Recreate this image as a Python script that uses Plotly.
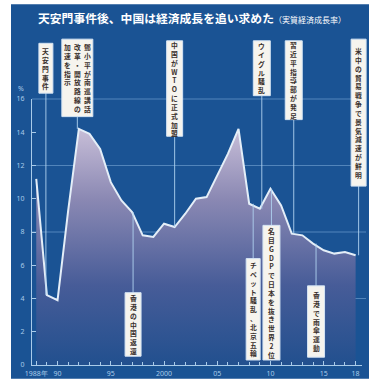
import plotly.graph_objects as go

# ---- data ----
years = list(range(1988, 2019))
growth = [11.2, 4.2, 3.9, 9.3, 14.2, 13.9, 13.0, 11.0, 9.9, 9.2,
          7.8, 7.7, 8.5, 8.3, 9.1, 10.0, 10.1, 11.4, 12.7, 14.2,
          9.7, 9.4, 10.6, 9.6, 7.9, 7.8, 7.3, 6.9, 6.7, 6.8, 6.6]

x_tickvals = [1988, 1990, 1995, 2000, 2005, 2010, 2015, 2018]
x_ticktext = ["1988年", "90", "95", "2000", "05", "10", "15", "18"]
y_tickvals = [0, 2, 4, 6, 8, 10, 12, 14, 16]

event_years = [1989, 1992, 2001, 2009, 2012, 2018, 1997, 2008, 2010, 2014]
event_labels = [
    ["天安門事件"],
    ["鄧小平が南巡講話", "改革・開放路線の", "加速を指示"],
    ["中国がWTOに正式加盟"],
    ["ウイグル騒乱"],
    ["習近平指導部が発足"],
    ["米中の貿易戦争で景気減速が鮮明"],
    ["香港の中国返還"],
    ["チベット騒乱、北京五輪"],
    ["名目GDPで日本を抜き世界2位"],
    ["香港で雨傘運動"],
]

title_main = "天安門事件後、中国は経済成長を追い求めた"
title_sub = "（実質経済成長率）"

# ---- styling / layout (box extents in value units, offsets in px) ----
box_top = [19.35, 19.6, 19.5, 19.5, 19.5, 19.6, 4.35, 6.4, 8.4, 4.76]
box_bot = [16.35, 14.94, 13.76, 16.2, 14.76, 10.76, 0.53, 0.3, 0.3, 0.47]
box_dx = [-1, -1.5, 0, 2, 2, 3, 1, 4, 1, 3]
box_w = [14, 31, 16, 17, 17, 15, 16, 14, 17, 17]

BG = "#1a5394"
AXC = "#a9cbe9"
LINEC = "#e4eef8"

XR = [1987.6, 2018.6]
YR = [0, 16]

W, H = 369, 385
L, R, T, B = 32, 7, 99, 14
pw, ph = W - L - R, H - T - B


def px_x(px):
    return (px - L) / pw


def px_y(py):
    return (H - B - py) / ph


def xp(year, dpx=0.0):
    return (year - XR[0]) / (XR[1] - XR[0]) + dpx / pw


def yp(v):
    return (v - YR[0]) / (YR[1] - YR[0])


fig = go.Figure()

fig.add_trace(go.Scatter(
    x=years, y=growth, mode="lines",
    line=dict(color=LINEC, width=2),
    fill="tozeroy",
    fillgradient=dict(type="vertical", start=0, stop=14.4,
                      colorscale=[[0, "#1f4f8e"], [0.35, "#475c98"],
                                  [0.7, "#8a88b3"], [1, "#cac0d9"]]),
    hoverinfo="skip", showlegend=False,
))

shapes = []
annotations = []

# blue panel
shapes.append(dict(type="rect", xref="paper", yref="paper", layer="below",
                   x0=px_x(11), x1=px_x(369), y0=px_y(385), y1=px_y(2),
                   fillcolor=BG, line=dict(width=0)))

# horizontal grid lines
for gv in [4, 8, 12, 16]:
    shapes.append(dict(type="line", xref="paper", yref="paper", layer="below",
                       x0=0, x1=px_x(366), y0=yp(gv), y1=yp(gv),
                       line=dict(color="rgba(150,195,235,0.45)", width=1)))

for i, yr in enumerate(event_years):
    val = growth[years.index(yr)]
    top, bot = box_top[i], box_bot[i]
    dx, w = box_dx[i], box_w[i]
    if bot > val:
        y0, y1 = val, bot
    else:
        y0, y1 = top, val
    shapes.append(dict(type="line", xref="paper", yref="paper",
                       x0=xp(yr, dx), x1=xp(yr, dx), y0=yp(y0), y1=yp(y1),
                       line=dict(color="rgba(175,210,240,0.9)", width=1)))
    shapes.append(dict(type="rect", xref="paper", yref="paper",
                       x0=xp(yr, dx - w / 2), x1=xp(yr, dx + w / 2),
                       y0=yp(bot), y1=yp(top),
                       fillcolor="#f6f4ee", line=dict(color="#d4e4f4", width=1)))
    cols = event_labels[i]
    n = len(cols)
    for c, txt in enumerate(cols):
        shift = dx + (w / n) * ((n - 1) / 2 - c)
        if n == 1:
            yy, ya, ys = yp((top + bot) / 2), "middle", 0
        else:
            yy, ya, ys = yp(top), "top", -1
        annotations.append(dict(
            x=xp(yr, shift), y=yy, xref="paper", yref="paper", yshift=ys,
            text="<b>" + "<br>".join(list(txt)) + "</b>", showarrow=False,
            xanchor="center", yanchor=ya, align="center",
            font=dict(family="Noto Sans CJK JP", size=6.8, color="#3a302c"),
        ))

# title
annotations.append(dict(
    x=px_x(36), y=px_y(16), xref="paper", yref="paper", showarrow=False,
    xanchor="left", yanchor="middle",
    text=f"<b>{title_main}</b><span style='font-size:8px'>{title_sub}</span>",
    font=dict(family="Noto Sans CJK JP", size=11.8, color="#ffffff"),
))
# % unit
annotations.append(dict(
    x=px_x(21), y=px_y(88), xref="paper", yref="paper", showarrow=False,
    xanchor="center", yanchor="middle", text="%",
    font=dict(family="Noto Sans", size=7, color=AXC),
))

fig.update_layout(
    width=W, height=H,
    margin=dict(l=L, r=R, t=T, b=B, pad=0),
    paper_bgcolor="#ffffff", plot_bgcolor="rgba(0,0,0,0)",
    shapes=shapes, annotations=annotations, showlegend=False,
    xaxis=dict(range=XR, tickvals=x_tickvals, ticktext=x_ticktext,
               showgrid=False, zeroline=False, showline=True, linecolor=AXC,
               linewidth=1, ticks="inside", ticklen=4, tickcolor=AXC,
               ticklabelstandoff=2,
               tickfont=dict(family="Noto Sans", size=7, color=AXC),
               minor=dict(dtick=1, ticks="inside", ticklen=3, tickcolor=AXC)),
    yaxis=dict(range=YR, tickvals=y_tickvals, showgrid=False,
               zeroline=False, showline=True, linecolor=AXC, linewidth=1,
               ticks="inside", ticklen=4, tickcolor=AXC,
               ticklabelstandoff=5,
               tickfont=dict(family="Noto Sans", size=7, color=AXC)),
)

fig.write_html("out.html")
